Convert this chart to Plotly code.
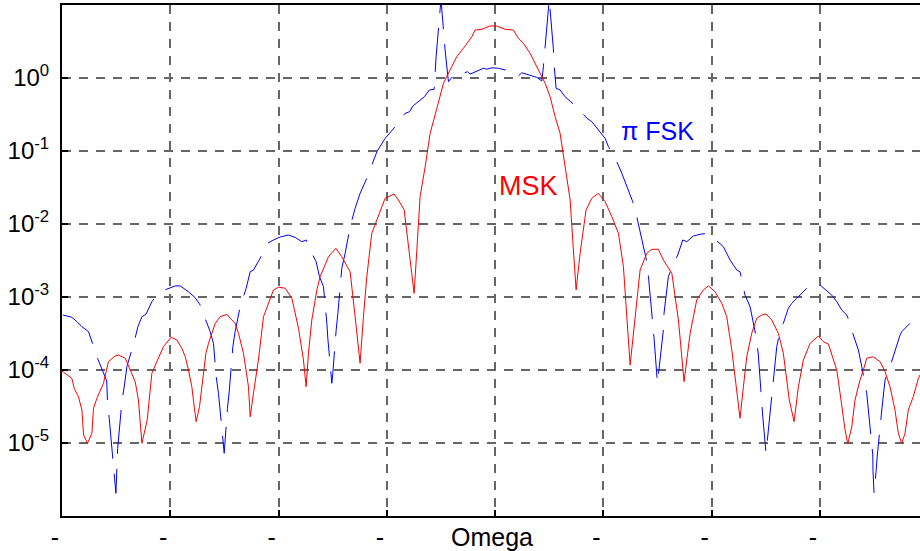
import plotly.graph_objects as go

# ---------------- data ----------------
msk_omega = [-4.000, -3.909, -3.887, -3.848, -3.816, -3.801, -3.765, -3.724, -3.709, -3.678,
             -3.617, -3.571, -3.509, -3.478, -3.416, -3.370, -3.324, -3.294, -3.278, -3.262,
             -3.213, -3.170, -3.124, -3.063, -2.992, -2.939, -2.893, -2.862, -2.832, -2.801,
             -2.779, -2.761, -2.730, -2.708, -2.671, -2.647, -2.585, -2.539, -2.477, -2.447,
             -2.401, -2.370, -2.324, -2.278, -2.262, -2.232, -2.186, -2.139, -2.093, -2.047,
             -2.001, -1.939, -1.877, -1.816, -1.770, -1.745, -1.724, -1.693, -1.646, -1.616,
             -1.539, -1.471, -1.416, -1.339, -1.293, -1.247, -1.216, -1.185, -1.139, -1.078,
             -1.016, -0.933, -0.893, -0.840, -0.748, -0.723, -0.693, -0.646, -0.600, -0.538,
             -0.508, -0.477, -0.416, -0.354, -0.293, -0.215, -0.185, -0.123, -0.046, 0.016,
             0.092, 0.169, 0.215, 0.261, 0.323, 0.385, 0.462, 0.508, 0.554, 0.600,
             0.646, 0.693, 0.723, 0.748, 0.785, 0.840, 0.893, 0.954, 1.016, 1.078,
             1.139, 1.185, 1.247, 1.277, 1.339, 1.401, 1.447, 1.508, 1.554, 1.632,
             1.693, 1.745, 1.801, 1.862, 1.923, 1.970, 2.031, 2.093, 2.139, 2.186,
             2.232, 2.262, 2.293, 2.324, 2.370, 2.416, 2.463, 2.502, 2.555, 2.616,
             2.662, 2.717, 2.761, 2.801, 2.847, 2.909, 2.985, 3.031, 3.078, 3.124,
             3.155, 3.186, 3.232, 3.257, 3.294, 3.324, 3.370, 3.401, 3.432, 3.493,
             3.555, 3.601, 3.647, 3.693, 3.724, 3.755, 3.786, 3.816, 3.862, 3.909,
             3.924]
msk_psd = [9.68e-5, 7.69e-5, 5.61e-5, 4.31e-5, 2.83e-5, 1.29e-5, 9.9e-6, 1.36e-5, 2.99e-5, 4.09e-5,
           6.58e-5, 1.30e-4, 1.56e-4, 1.60e-4, 1.45e-4, 1.00e-4, 6.92e-5, 3.88e-5, 1.67e-5, 9.9e-6,
           2.07e-5, 9.01e-5, 1.30e-4, 2.09e-4, 2.81e-4, 2.58e-4, 1.98e-4, 1.52e-4, 1.00e-4, 5.90e-5,
           3.14e-5, 1.96e-5, 3.14e-5, 5.90e-5, 1.69e-4, 2.32e-4, 4.36e-4, 5.37e-4, 5.79e-4, 5.11e-4,
           4.36e-4, 3.18e-4, 1.69e-4, 5.90e-5, 2.29e-5, 4.80e-5, 1.37e-4, 5.37e-4, 8.20e-4, 1.25e-3,
           1.36e-3, 1.32e-3, 9.60e-4, 3.73e-4, 1.37e-4, 5.90e-5, 1.69e-4, 4.84e-4, 1.25e-3, 1.90e-3,
           3.56e-3, 4.65e-3, 3.56e-3, 2.22e-3, 5.37e-4, 1.24e-4, 5.37e-4, 1.90e-3, 7.46e-3, 1.26e-2,
           2.25e-2, 2.58e-2, 2.13e-2, 1.56e-2, 1.12e-3, 4.40e-3, 2.37e-2, 6.10e-2, 0.175, 0.385,
           0.554, 0.846, 1.29, 1.96, 2.55, 3.68, 4.54, 4.65, 5.16, 5.16,
           4.65, 4.54, 3.50, 2.99, 2.18, 1.43, 0.846, 0.554, 0.295, 0.175,
           6.10e-2, 2.13e-2, 4.40e-3, 1.25e-3, 3.97e-3, 1.56e-2, 2.25e-2, 2.63e-2, 2.02e-2, 1.26e-2,
           7.46e-3, 2.60e-3, 1.17e-4, 3.18e-4, 2.34e-3, 3.97e-3, 4.50e-3, 4.50e-3, 3.21e-3, 2.11e-3,
           4.84e-4, 6.92e-5, 3.18e-4, 9.10e-4, 1.25e-3, 1.42e-3, 1.18e-3, 8.20e-4, 5.37e-4, 1.88e-4,
           5.32e-5, 2.18e-5, 5.90e-5, 1.52e-4, 3.18e-4, 5.11e-4, 5.67e-4, 5.85e-4, 4.84e-4, 3.18e-4,
           1.69e-4, 3.88e-5, 1.96e-5, 5.90e-5, 1.37e-4, 2.32e-4, 2.92e-4, 2.44e-4, 2.27e-4, 1.37e-4,
           1.00e-4, 4.80e-5, 1.51e-5, 9.7e-6, 1.67e-5, 3.88e-5, 7.30e-5, 1.00e-4, 1.45e-4, 1.52e-4,
           1.30e-4, 9.48e-5, 5.90e-5, 2.83e-5, 1.36e-5, 9.9e-6, 1.36e-5, 2.83e-5, 4.31e-5, 7.69e-5,
           8.55e-5]

fsk_omega = [-3.992, -3.909, -3.862, -3.816, -3.755, -3.717, -3.672, -3.587, -3.580, -3.564,
             -3.524, -3.509, -3.502, -3.486, -3.447, -3.423, -3.401, -3.333, -3.299, -3.262,
             -3.223, -3.170, -3.124, -3.068, -2.955, -2.909, -2.832, -2.770, -2.724, -2.684,
             -2.632, -2.601, -2.576, -2.555, -2.514, -2.502, -2.472, -2.456, -2.422, -2.401,
             -2.355, -2.299, -2.262, -2.232, -2.170, -2.103, -2.047, -1.985, -1.909, -1.847,
             -1.785, -1.745, -1.708, -1.653, -1.622, -1.585, -1.554, -1.545, -1.508, -1.499,
             -1.468, -1.452, -1.416, -1.385, -1.339, -1.293, -1.247, -1.185, -1.092, -1.016,
             -0.923, -0.893, -0.831, -0.791, -0.760, -0.653, -0.607, -0.563, -0.545, -0.533,
             -0.500, -0.462, -0.446, -0.431, -0.400, -0.307, -0.293, -0.256, -0.231, -0.108,
             -0.077, -0.030, 0.030, 0.092, 0.123, 0.169, 0.215, 0.247, 0.385, 0.431,
             0.446, 0.462, 0.477, 0.500, 0.538, 0.545, 0.563, 0.600, 0.646, 0.699,
             0.801, 0.847, 0.893, 0.954, 1.016, 1.046, 1.117, 1.170, 1.231, 1.271,
             1.308, 1.355, 1.401, 1.416, 1.438, 1.456, 1.468, 1.499, 1.554, 1.560,
             1.600, 1.641, 1.687, 1.733, 1.770, 1.831, 1.893, 1.970, 2.078, 2.108,
             2.170, 2.232, 2.262, 2.278, 2.308, 2.355, 2.385, 2.416, 2.431, 2.447,
             2.463, 2.472, 2.502, 2.524, 2.539, 2.564, 2.576, 2.601, 2.632, 2.662,
             2.708, 2.740, 2.786, 2.832, 2.878, 2.939, 2.985, 3.001, 3.109, 3.155,
             3.201, 3.247, 3.278, 3.308, 3.355, 3.386, 3.416, 3.432, 3.447, 3.478,
             3.488, 3.490, 3.500, 3.518, 3.530, 3.571, 3.586, 3.601, 3.647, 3.693,
             3.740, 3.755, 3.801, 3.832, 3.878, 3.924]
fsk_psd = [5.67e-4, 5.27e-4, 4.59e-4, 3.92e-4, 3.35e-4, 2.32e-4, 1.45e-4, 7.07e-5, 3.68e-5, 2.18e-5,
           5.27e-6, 3.11e-6, 2.05e-6, 8.46e-6, 3.68e-5, 6.23e-5, 1.11e-4, 2.44e-4, 3.92e-4, 5.37e-4,
           5.85e-4, 8.63e-4, 1.06e-3, 1.22e-3, 1.42e-3, 1.42e-3, 1.18e-3, 9.78e-4, 7.77e-4, 5.37e-4,
           3.35e-4, 2.32e-4, 8.10e-5, 4.80e-5, 1.16e-5, 7.23e-6, 2.99e-5, 5.00e-5, 2.09e-4, 3.35e-4,
           7.36e-4, 1.32e-3, 2.22e-3, 2.34e-3, 3.39e-3, 5.44e-3, 6.04e-3, 6.64e-3, 7.07e-3, 6.57e-3,
           5.72e-3, 6.04e-3, 4.40e-3, 3.05e-3, 1.90e-3, 1.38e-3, 4.36e-4, 2.72e-4, 6.58e-5, 9.01e-5,
           3.53e-4, 5.98e-4, 2.47e-3, 3.97e-3, 9.18e-3, 1.64e-2, 2.63e-2, 4.23e-2, 9.78e-2, 0.149,
           0.215, 0.252, 0.328, 0.345, 0.413, 0.554, 0.685, 0.700, 1.96, 3.14,
           12.0, 2.42, 1.51, 0.890, 1.02, 1.02, 1.16, 1.22, 1.13, 1.36,
           1.32, 1.38, 1.36, 1.29, 1.32, 1.22, 1.07, 1.18, 1.02, 0.910,
           1.43, 2.68, 4.31, 12.0, 2.50, 1.51, 0.723, 0.685, 0.554, 0.473,
           0.337, 0.281, 0.252, 0.194, 0.149, 0.115, 7.53e-2, 4.95e-2, 2.92e-2, 2.02e-2,
           1.26e-2, 6.37e-3, 3.05e-3, 1.90e-3, 9.10e-4, 4.36e-4, 2.72e-4, 6.58e-5, 3.53e-4, 5.98e-4,
           1.90e-3, 2.74e-3, 3.76e-3, 6.04e-3, 5.72e-3, 6.85e-3, 7.23e-3, 7.46e-3, 5.44e-3, 4.89e-3,
           3.21e-3, 2.34e-3, 2.22e-3, 1.71e-3, 1.06e-3, 7.36e-4, 4.36e-4, 2.58e-4, 1.60e-4, 7.30e-5,
           3.68e-5, 2.29e-5, 7.23e-6, 1.51e-5, 3.14e-5, 6.58e-5, 1.05e-4, 2.09e-4, 3.53e-4, 4.36e-4,
           7.00e-4, 8.20e-4, 9.60e-4, 1.12e-3, 1.32e-3, 1.46e-3, 1.51e-3, 1.46e-3, 1.06e-3, 8.63e-4,
           6.64e-4, 5.67e-4, 4.36e-4, 3.02e-4, 1.88e-4, 1.11e-4, 5.90e-5, 4.80e-5, 2.83e-5, 1.10e-5,
           6.85e-6, 4.05e-6, 2.05e-6, 4.05e-6, 6.85e-6, 2.83e-5, 4.80e-5, 7.30e-5, 1.11e-4, 1.88e-4,
           3.02e-4, 3.35e-4, 3.92e-4, 4.36e-4, 4.84e-4, 5.37e-4]

x_ticks = [-4, -3, -2, -1, 0, 1, 2, 3]
x_tick_labels = ["-", "-", "-", "-", "", "-", "-", "-"]
y_ticks = [1e-5, 1e-4, 1e-3, 1e-2, 1e-1, 1e0]
y_tick_labels = ["10<sup>-5</sup>", "10<sup>-4</sup>", "10<sup>-3</sup>",
                 "10<sup>-2</sup>", "10<sup>-1</sup>", "10<sup>0</sup>"]

FONT = "Liberation Sans, Arial, sans-serif"

fig = go.Figure()
fig.add_trace(go.Scatter(x=fsk_omega, y=fsk_psd, mode="lines", name="πFSK",
                         line=dict(color="#0000ff", width=1, dash="44px,15px")))
fig.add_trace(go.Scatter(x=msk_omega, y=msk_psd, mode="lines", name="MSK",
                         line=dict(color="#ff0000", width=1)))

fig.add_annotation(x=0.305, y=-1.479, xref="x", yref="y", text="MSK", showarrow=False,
                   font=dict(family=FONT, size=27, color="#ff0000"))
fig.add_annotation(x=1.50, y=-0.73, xref="x", yref="y", text="π FSK", showarrow=False,
                   font=dict(family=FONT, size=25, color="#0000ff"))
fig.add_annotation(x=-0.03, y=0, xref="x", yref="paper", text="Omega", showarrow=False,
                   yanchor="middle", yshift=-21,
                   font=dict(family=FONT, size=25, color="#000000"))

fig.update_layout(
    width=920, height=551,
    margin=dict(l=62, r=0, t=5, b=35, autoexpand=False),
    paper_bgcolor="white", plot_bgcolor="white",
    showlegend=False,
    font=dict(family=FONT, size=25, color="#000000"),
)
fig.update_xaxes(
    range=[-4.0, 3.924], tickmode="array", tickvals=x_ticks, ticktext=x_tick_labels,
    showline=True, linecolor="black", linewidth=2, mirror=True,
    ticks="inside", ticklen=6, tickcolor="black", tickwidth=1.5,
    showgrid=True, gridcolor="#666666", gridwidth=1.5, griddash="9px,8px",
    zeroline=False, ticklabelshift=-7, ticklabelstandoff=-2, automargin=False,
    tickfont=dict(family=FONT, size=25, color="black"),
)
fig.update_yaxes(
    type="log", range=[-6, 1], tickmode="array", tickvals=y_ticks, ticktext=y_tick_labels,
    showline=True, linecolor="black", linewidth=2, mirror=False,
    ticks="inside", ticklen=6, tickcolor="black", tickwidth=1.5,
    showgrid=True, gridcolor="#666666", gridwidth=1.5, griddash="9px,8px",
    zeroline=False, ticklabelstandoff=6, automargin=False,
    tickfont=dict(family=FONT, size=24, color="black"),
)

fig.write_html("out.html", config={"displayModeBar": False},
               post_script="document.body.style.margin='0';document.body.style.overflow='hidden';")
